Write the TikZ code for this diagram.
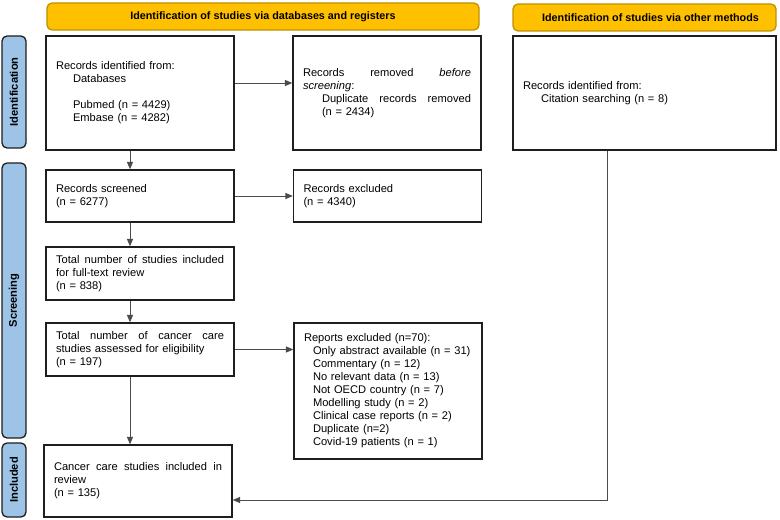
\documentclass[tikz,border=0pt]{standalone}
\usepackage{fontspec}
\setmainfont{Liberation Sans}
\usetikzlibrary{positioning,arrows.meta,calc}
\definecolor{gold}{RGB}{255,192,0}
\definecolor{golddark}{RGB}{191,144,0}
\definecolor{skyblue}{RGB}{157,195,230}
\definecolor{ink}{RGB}{30,30,30}
\newcommand{\prismafont}{\fontsize{9.5}{11.1}\selectfont}
\tikzset{
  box/.style={draw=ink, line width=1.2pt, fill=white, align=left, text width=#1, inner xsep=3mm, inner ysep=0pt, font=\prismafont},
  box/.default={50.4mm},
  head/.style={draw=golddark, line width=1.1pt, fill=gold, rounded corners=1.5mm, minimum height=8.1mm, minimum width=#1, font=\fontsize{9.2}{11}\selectfont\bfseries},
  side/.style={draw=ink, line width=1.1pt, fill=skyblue, rounded corners=1.5mm, rotate=90, minimum height=7.2mm, minimum width=#1, font=\fontsize{9.5}{11}\selectfont\bfseries},
  arrow/.style={-{Triangle[length=2.2mm,width=1.8mm]}, line width=0.8pt, draw=ink!80}
}

\begin{document}
\begin{tikzpicture}[x=0.3mm, y=-0.3mm]
  \useasboundingbox (0,0) rectangle (780,519);
  \node[head=129.6mm] (headdb) at (263,16.5) {Identification of studies via databases and registers};
  \node[head=78.9mm] (headother) at (644.5,17.5) {\hspace*{3.6mm}Identification of studies via other methods};
  \node[side=33.6mm] (sideid) at (14,92) {Identification};
  \node[side=82.5mm] (sidescr) at (14,300.5) {Screening};
  \node[side=22.2mm] (sideinc) at (14,480) {Included};

  \node[box, minimum height=34.2mm] (ident) at (140,93) {Records identified from:\\\hspace*{5.1mm}Databases\\[11.1pt]\hspace*{5.1mm}Pubmed (n = 4429)\\\hspace*{5.1mm}Embase (n = 4282)};
  \node[box, minimum height=34.2mm] (dup) at (387,93) {Records\hfill removed\hfill \textit{before}\\\textit{screening}:\\\hspace*{5.7mm}Duplicate\hfill records\hfill removed\\\hspace*{5.7mm}(n = 2434)};
  \node[box=72.9mm, minimum height=34.2mm] (cit) at (644.5,93) {Records identified from:\\\hspace*{5.4mm}Citation searching (n = 8)};
  \node[box, minimum height=15.6mm] (scr) at (140,196) {Records screened\\(n = 6277)};
  \node[box, minimum height=15.6mm] (excl) at (387.5,196) {Records excluded\\(n = 4340)};
  \node[box, minimum height=15.9mm] (full) at (140,273.5) {Total\hfill number\hfill of\hfill studies\hfill included\\for full-text review\\(n = 838)};
  \node[box, minimum height=15.9mm] (elig) at (140,349.5) {Total\hfill number\hfill of\hfill cancer\hfill care\\studies assessed for eligibility\\(n = 197)};
  \node[box, minimum height=40.8mm] (rep) at (388,391) {Reports excluded (n=70):\\\hspace*{2.7mm}Only abstract available (n = 31)\\\hspace*{2.7mm}Commentary (n = 12)\\\hspace*{2.7mm}No relevant data (n = 13)\\\hspace*{2.7mm}Not OECD country (n = 7)\\\hspace*{2.7mm}Modelling study (n = 2)\\\hspace*{2.7mm}Clinical case reports (n = 2)\\\hspace*{2.7mm}Duplicate (n=2)\\\hspace*{2.7mm}Covid-19 patients (n = 1)};
  \node[box, minimum height=21.6mm] (incl) at (138,481) {Cancer\hfill care\hfill studies\hfill included\hfill in\\review\\(n = 135)};
  \coordinate (turn) at (607,500);

  \draw[arrow] ([yshift=3mm]ident.east) -- ([yshift=3mm]ident.east -| dup.west);
  \draw[arrow] ([xshift=-3mm]ident.south) -- ([xshift=-3mm]scr.north);
  \draw[arrow] (scr.east) -- (excl.west |- scr.east);
  \draw[arrow] ([xshift=-3mm]scr.south) -- ([xshift=-3mm]full.north);
  \draw[arrow] ([xshift=-3mm]full.south) -- ([xshift=-3mm]elig.north);
  \draw[arrow] (elig.east) -- (elig.east -| rep.west);
  \draw[arrow] ([xshift=-3mm]elig.south) -- ([xshift=-3mm]elig.south |- incl.north);
  \draw[arrow] (cit.south -| turn) -- (turn) -- (turn -| incl.east);
\end{tikzpicture}
\end{document}
